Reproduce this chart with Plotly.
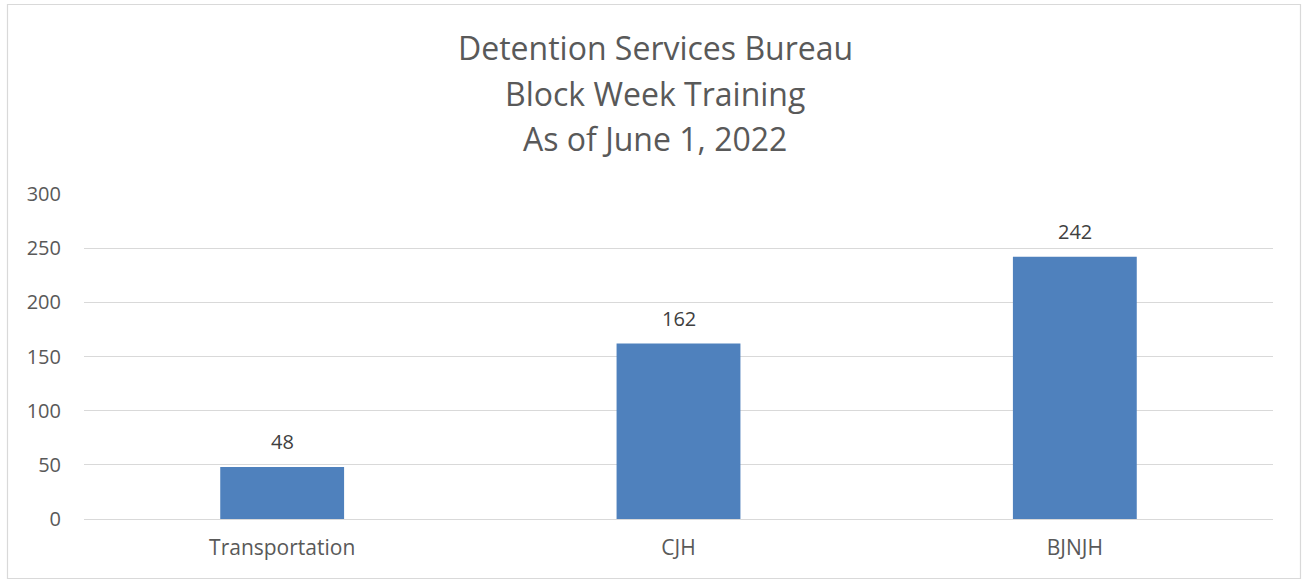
import plotly.graph_objects as go

categories = ["Transportation", "CJH", "BJNJH"]
values = [48, 162, 242]
title_lines = ["Detention Services Bureau", "Block Week Training", "As of June 1, 2022"]
y_ticks = [0, 50, 100, 150, 200, 250, 300]

W, H = 1302, 580
L, R, T, B = 84, 29, 194, 61
pw, ph = W - L - R, H - T - B

def px_x(x):
    return (x - L) / pw

def px_y(y):
    return (H - B - y) / ph

txt = "#595959"
font = "Open Sans"

fig = go.Figure(go.Bar(
    x=categories, y=values, width=0.3125,
    marker=dict(color="#4F81BD", line=dict(width=0)),
    hoverinfo="skip",
))

annotations = []
for c, v in zip(categories, values):
    annotations.append(dict(x=c, y=v, xref="x", yref="y", text=str(v), showarrow=False,
                            yanchor="bottom", yshift=10,
                            font=dict(family=font, size=20, color="#404040")))
title_centers = [47, 93, 139]
for line, yc in zip(title_lines, title_centers):
    annotations.append(dict(x=px_x(655), y=px_y(yc), xref="paper", yref="paper", text=line,
                            showarrow=False, yanchor="middle", xanchor="center",
                            font=dict(family=font, size=32, color=txt)))

fig.update_layout(
    width=W, height=H,
    margin=dict(l=L, r=R, t=T, b=B),
    paper_bgcolor="white", plot_bgcolor="white",
    showlegend=False,
    annotations=annotations,
    shapes=[dict(type="rect", xref="paper", yref="paper",
                 x0=px_x(7.5), x1=px_x(1300.5), y0=px_y(578.5), y1=px_y(4.5),
                 line=dict(color="#D9D9D9", width=1.2), fillcolor="rgba(0,0,0,0)", layer="below")],
    xaxis=dict(type="category", showgrid=False, showline=False, zeroline=False,
               tickfont=dict(family=font, size=21, color=txt), ticks="",
               ticklabelstandoff=14, range=[-0.5, 2.5]),
    yaxis=dict(range=[0, 300], tickvals=y_ticks, showgrid=True, gridcolor="#D9D9D9",
               gridwidth=1.2, zeroline=True, zerolinecolor="#D9D9D9", zerolinewidth=1.2,
               showline=False, ticks="", tickfont=dict(family=font, size=20, color=txt),
               ticklabelstandoff=22),
)

fig.write_html("out.html")
